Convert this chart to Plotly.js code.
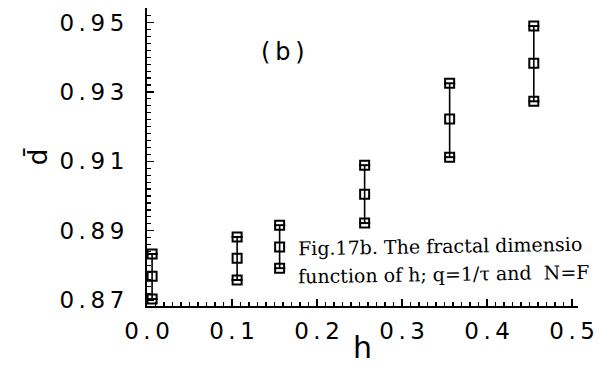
<!DOCTYPE html>
<html><head><meta charset="utf-8">
<script src="https://cdn.plot.ly/plotly-3.0.1.min.js"></script>
<style>html,body{margin:0;padding:0;background:#fff;}#chart{width:599px;height:365px;}</style>
</head><body><div id="chart"></div>
<script>
// h values and the three d-bar values (low / mid / high) per group
const h     = [0.006, 0.106, 0.156, 0.256, 0.356, 0.455];
const dLow  = [0.8703, 0.8758, 0.8792, 0.8922, 0.9112, 0.9273];
const dMid  = [0.8769, 0.8821, 0.8853, 0.9005, 0.9222, 0.9383];
const dHigh = [0.8833, 0.8882, 0.8916, 0.9089, 0.9325, 0.9490];

const xTicks = [0, 0.1, 0.2, 0.3, 0.4, 0.5];
const xTickLabels = ['0.0', '0.1', '0.2', '0.3', '0.4', '0.5'];
const yTicks = [0.87, 0.89, 0.91, 0.93, 0.95];
const yTickLabels = ['0.87', '0.89', '0.91', '0.93', '0.95'];

const panelLabel = '(b)';
const captionLine1 = 'Fig.17b. The fractal dimensio';
const captionLine2 = 'function of h; q=1/\u03c4 and  N=F';

const spaced = s => s.split('').join('\u2009');

const traces = [];
for (let i = 0; i < h.length; i++) {
  traces.push({
    x: [h[i], h[i], h[i]],
    y: [dLow[i], dMid[i], dHigh[i]],
    mode: 'lines+markers',
    type: 'scatter',
    line: {color: '#000', width: 1.6},
    marker: {symbol: 'square-open', size: 9, color: '#000', line: {width: 2, color: '#000'}},
    showlegend: false,
    hoverinfo: 'skip'
  });
}
// horizontal bar inside top/bottom markers
traces.push({
  x: h.concat(h),
  y: dLow.concat(dHigh),
  mode: 'markers',
  type: 'scatter',
  marker: {symbol: 'line-ew-open', size: 8, color: '#000', line: {width: 2, color: '#000'}},
  showlegend: false,
  hoverinfo: 'skip'
});

const axisFont = {family: 'DejaVu Sans, sans-serif', size: 23, color: '#000'};
const captionFont = {family: 'DejaVu Serif', size: 19, color: '#000'};

const layout = {
  width: 599, height: 365,
  margin: {l: 147, r: 21, t: 8, b: 59, pad: 0},
  paper_bgcolor: '#fff', plot_bgcolor: '#fff',
  font: {family: 'DejaVu Sans, sans-serif', color: '#000'},
  xaxis: {
    range: [0, 0.507],
    tickmode: 'array', tickvals: xTicks, ticktext: xTickLabels.map(spaced),
    ticks: 'inside', ticklen: 7, tickwidth: 1.5, tickcolor: '#000',
    minor: {dtick: 0.01, tick0: 0, ticks: 'inside', ticklen: 4, tickwidth: 1.2, tickcolor: '#000', showgrid: false},
    showline: true, linecolor: '#000', linewidth: 2, mirror: false,
    showgrid: false, zeroline: false,
    tickfont: axisFont, ticklabelstandoff: 3,
    title: {text: 'h', font: {family: 'DejaVu Sans, sans-serif', size: 30, color: '#000'}, standoff: 2}
  },
  yaxis: {
    range: [0.8683, 0.9542],
    tickmode: 'array', tickvals: yTicks, ticktext: yTickLabels.map(spaced),
    ticks: 'inside', ticklen: 7, tickwidth: 1.5, tickcolor: '#000',
    minor: {dtick: 0.002, tick0: 0.87, ticks: 'inside', ticklen: 4, tickwidth: 1.2, tickcolor: '#000', showgrid: false},
    showline: true, linecolor: '#000', linewidth: 2, mirror: false,
    showgrid: false, zeroline: false,
    tickfont: axisFont, ticklabelstandoff: 16,
    title: {text: 'd\u0304', font: {family: 'DejaVu Sans, sans-serif', size: 26, color: '#000'}, standoff: 4}
  },
  annotations: [
    {text: spaced(panelLabel), xref: 'paper', yref: 'paper', x: 0.3155, y: 0.852,
     xanchor: 'center', yanchor: 'middle', showarrow: false,
     font: {family: 'DejaVu Sans, sans-serif', size: 24, color: '#000'}},
    {text: captionLine1, xref: 'paper', yref: 'paper', x: 0.346, y: 0.201,
     xanchor: 'left', yanchor: 'middle', showarrow: false, textangle: -0.9,
     font: captionFont},
    {text: captionLine2, xref: 'paper', yref: 'paper', x: 0.346, y: 0.107,
     xanchor: 'left', yanchor: 'middle', showarrow: false, textangle: -0.9,
     font: captionFont}
  ]
};

Plotly.newPlot('chart', traces, layout, {staticPlot: true, displayModeBar: false});
</script>
</body></html>
